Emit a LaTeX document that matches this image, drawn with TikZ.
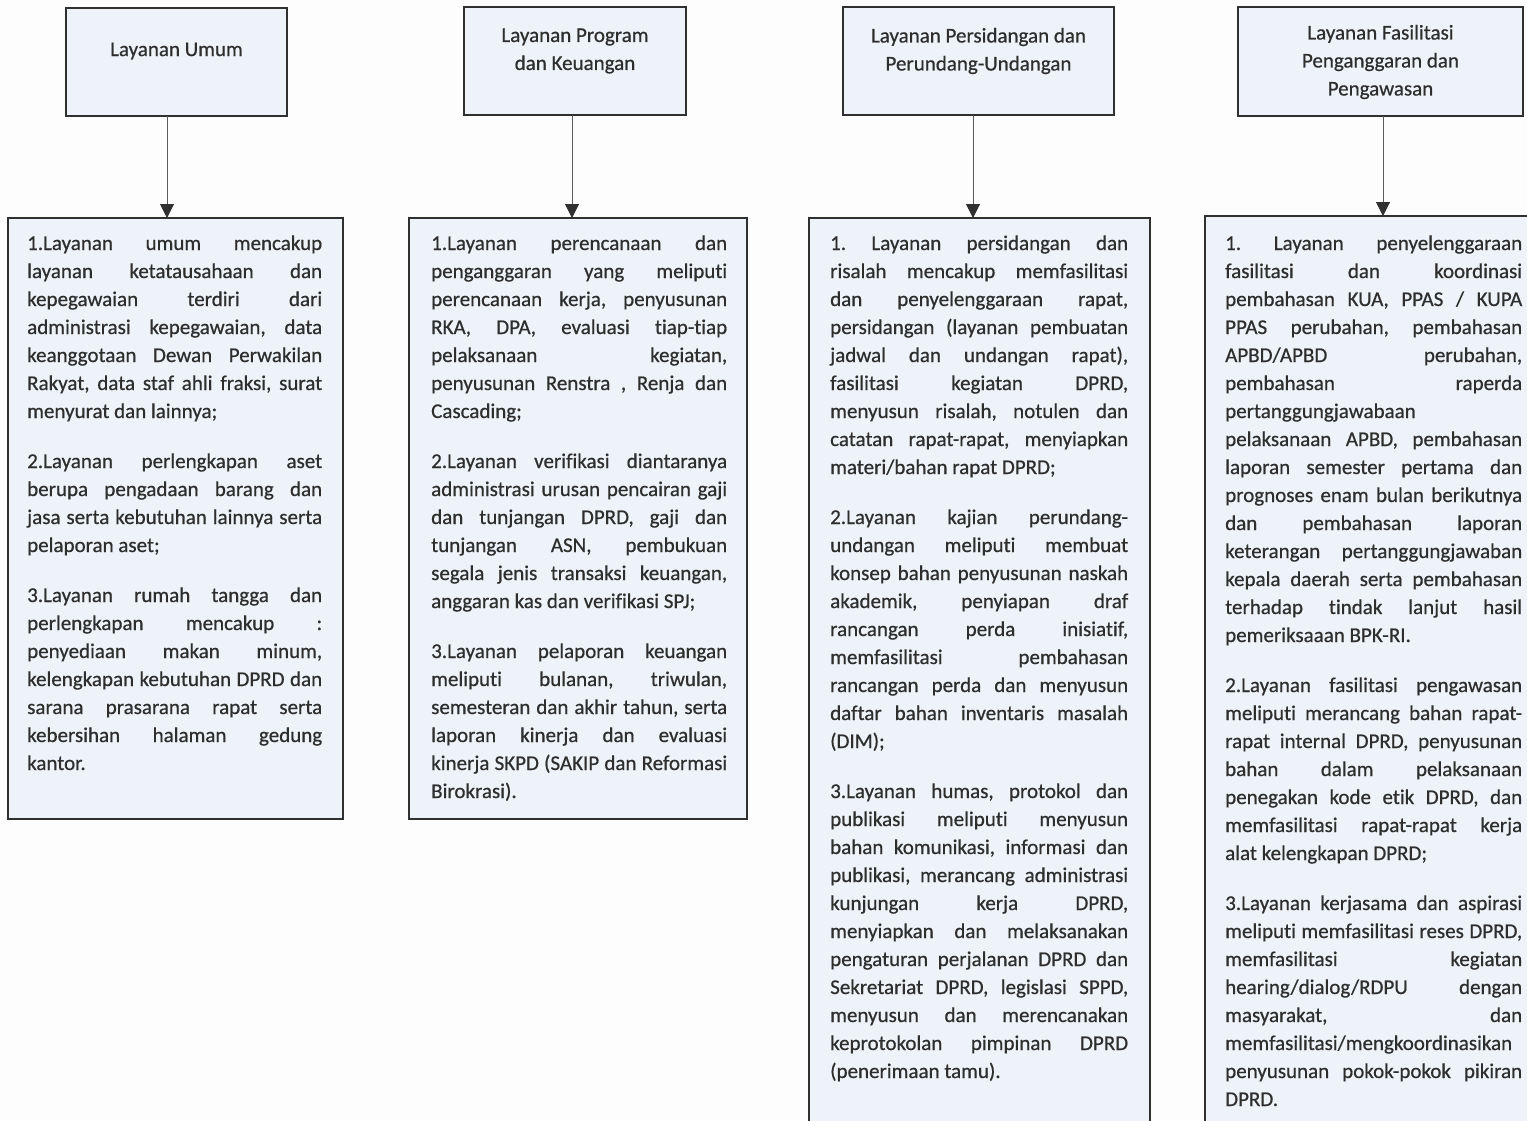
\documentclass[tikz,border=0pt]{standalone}
\usepackage{fontspec}
\setmainfont{Carlito}[Ligatures={TeX,NoCommon},FakeBold=0.6]
\usetikzlibrary{arrows.meta}

\definecolor{boxfill}{HTML}{EDF3F9}
\definecolor{boxline}{HTML}{303030}
\definecolor{ink}{HTML}{2E2E2E}
\definecolor{linkgray}{HTML}{5A5A5A}
\definecolor{paper}{HTML}{FDFDFD}

% one justified line, one flush-left line, and the gap between items
\newcommand{\jl}[1]{\makebox[\linewidth][s]{#1}\par}
\newcommand{\el}[1]{#1\par}
\newcommand{\pgap}{\vspace{22pt}}
\newcommand{\bodyfont}{\fontsize{21}{28}\selectfont\frenchspacing}

\begin{document}
\begin{tikzpicture}[x=1pt,y=-1pt,
  frame/.style={draw=boxline,line width=2.6pt,fill=boxfill,inner sep=0pt,outer sep=0pt},
  label/.style={text=ink,font=\bodyfont,align=center,inner sep=0pt},
  listtext/.style={text=ink,font=\bodyfont,anchor=base west,inner sep=0pt},
  conn/.style={draw=linkgray,line width=1pt,
    -{Triangle[width=14pt,length=14pt,color=boxline]}}]

\useasboundingbox (0,0) rectangle (1527,1120);
\clip (0,0) rectangle (1527,1120);
\fill[paper] (0,0) rectangle (1527,1120);

% ---- header boxes ----
\node[frame,minimum width=221pt,minimum height=108pt] (t1) at (176.5,62) {};
\node[frame,minimum width=222pt,minimum height=108pt] (t2) at (575,61) {};
\node[frame,minimum width=271pt,minimum height=108pt] (t3) at (978.5,61) {};
\node[frame,minimum width=285pt,minimum height=109pt] (t4) at (1380.5,61.5) {};

\node[label] (t1l) at (176.5,51) {Layanan Umum};
\node[label] (t2l) at (575,51) {Layanan Program\\dan Keuangan};
\node[label] (t3l) at (978.5,51) {Layanan Persidangan dan\\Perundang-Undangan};
\node[label] (t4l) at (1380.5,62) {Layanan Fasilitasi\\Penganggaran dan\\Pengawasan};

% ---- detail boxes ----
\node[frame,minimum width=335pt,minimum height=601pt,anchor=north west] (b1) at (8,218) {};
\node[frame,minimum width=338pt,minimum height=601pt,anchor=north west] (b2) at (409,218) {};
\node[frame,minimum width=341pt,minimum height=930pt,anchor=north west] (b3) at (809,218) {};
\node[frame,minimum width=340pt,minimum height=930pt,anchor=north west] (b4) at (1205,216) {};

% ---- connectors ----
\coordinate (a1) at (167,0);
\coordinate (a2) at (572,0);
\coordinate (a3) at (973,0);
\coordinate (a4) at (1383,0);
\draw[conn] (t1.south -| a1) -- (b1.north -| a1);
\draw[conn] (t2.south -| a2) -- (b2.north -| a2);
\draw[conn] (t3.south -| a3) -- (b3.north -| a3);
\draw[conn] (t4.south -| a4) -- (b4.north -| a4);

% ---- item lists ----
\node[listtext] (b1t) at (27,250) {\begin{minipage}[t]{295pt}\bodyfont
\jl{1.Layanan umum mencakup}
\jl{layanan ketatausahaan dan}
\jl{kepegawaian terdiri dari}
\jl{administrasi kepegawaian, data}
\jl{keanggotaan Dewan Perwakilan}
\jl{Rakyat, data staf ahli fraksi, surat}
\el{menyurat dan lainnya;}
\pgap
\jl{2.Layanan perlengkapan aset}
\jl{berupa pengadaan barang dan}
\jl{jasa serta kebutuhan lainnya serta}
\el{pelaporan aset;}
\pgap
\jl{3.Layanan rumah tangga dan}
\jl{perlengkapan mencakup :}
\jl{penyediaan makan minum,}
\jl{kelengkapan kebutuhan DPRD dan}
\jl{sarana prasarana rapat serta}
\jl{kebersihan halaman gedung}
\el{kantor.}
\end{minipage}};

\node[listtext] (b2t) at (431,250) {\begin{minipage}[t]{296pt}\bodyfont
\jl{1.Layanan perencanaan dan}
\jl{penganggaran yang meliputi}
\jl{perencanaan kerja, penyusunan}
\jl{RKA, DPA, evaluasi tiap-tiap}
\jl{pelaksanaan kegiatan,}
\jl{penyusunan Renstra , Renja dan}
\el{Cascading;}
\pgap
\jl{2.Layanan verifikasi diantaranya}
\jl{administrasi urusan pencairan gaji}
\jl{dan tunjangan DPRD, gaji dan}
\jl{tunjangan ASN, pembukuan}
\jl{segala jenis transaksi keuangan,}
\el{anggaran kas dan verifikasi SPJ;}
\pgap
\jl{3.Layanan pelaporan keuangan}
\jl{meliputi bulanan, triwulan,}
\jl{semesteran dan akhir tahun, serta}
\jl{laporan kinerja dan evaluasi}
\jl{kinerja SKPD (SAKIP dan Reformasi}
\el{Birokrasi).}
\end{minipage}};

\node[listtext] (b3t) at (830,250) {\begin{minipage}[t]{298pt}\bodyfont
\jl{1. Layanan persidangan dan}
\jl{risalah mencakup memfasilitasi}
\jl{dan penyelenggaraan rapat,}
\jl{persidangan (layanan pembuatan}
\jl{jadwal dan undangan rapat),}
\jl{fasilitasi kegiatan DPRD,}
\jl{menyusun risalah, notulen dan}
\jl{catatan rapat-rapat, menyiapkan}
\el{materi/bahan rapat DPRD;}
\pgap
\jl{2.Layanan kajian perundang-}
\jl{undangan meliputi membuat}
\jl{konsep bahan penyusunan naskah}
\jl{akademik, penyiapan draf}
\jl{rancangan perda inisiatif,}
\jl{memfasilitasi pembahasan}
\jl{rancangan perda dan menyusun}
\jl{daftar bahan inventaris masalah}
\el{(DIM);}
\pgap
\jl{3.Layanan humas, protokol dan}
\jl{publikasi meliputi menyusun}
\jl{bahan komunikasi, informasi dan}
\jl{publikasi, merancang administrasi}
\jl{kunjungan kerja DPRD,}
\jl{menyiapkan dan melaksanakan}
\jl{pengaturan perjalanan DPRD dan}
\jl{Sekretariat DPRD, legislasi SPPD,}
\jl{menyusun dan merencanakan}
\jl{keprotokolan pimpinan DPRD}
\el{(penerimaan tamu).}
\end{minipage}};

\node[listtext] (b4t) at (1225,250) {\begin{minipage}[t]{297pt}\bodyfont
\jl{1. Layanan penyelenggaraan}
\jl{fasilitasi dan koordinasi}
\jl{pembahasan KUA, PPAS / KUPA}
\jl{PPAS perubahan, pembahasan}
\jl{APBD/APBD perubahan,}
\jl{pembahasan raperda}
\el{pertanggungjawabaan}
\jl{pelaksanaan APBD, pembahasan}
\jl{laporan semester pertama dan}
\jl{prognoses enam bulan berikutnya}
\jl{dan pembahasan laporan}
\jl{keterangan pertanggungjawaban}
\jl{kepala daerah serta pembahasan}
\jl{terhadap tindak lanjut hasil}
\el{pemeriksaaan BPK-RI.}
\pgap
\jl{2.Layanan fasilitasi pengawasan}
\jl{meliputi merancang bahan rapat-}
\jl{rapat internal DPRD, penyusunan}
\jl{bahan dalam pelaksanaan}
\jl{penegakan kode etik DPRD, dan}
\jl{memfasilitasi rapat-rapat kerja}
\el{alat kelengkapan DPRD;}
\pgap
\jl{3.Layanan kerjasama dan aspirasi}
\jl{meliputi memfasilitasi reses DPRD,}
\jl{memfasilitasi kegiatan}
\jl{hearing/dialog/RDPU dengan}
\jl{masyarakat, dan}
\el{memfasilitasi/mengkoordinasikan}
\jl{penyusunan pokok-pokok pikiran}
\el{DPRD.}
\end{minipage}};

\end{tikzpicture}
\end{document}
